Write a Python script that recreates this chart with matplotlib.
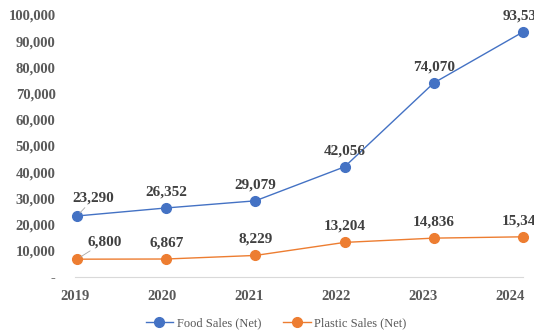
import matplotlib.pyplot as plt
from matplotlib.ticker import FuncFormatter

years = ['2019', '2020', '2021', '2022', '2023', '2024']
food = [23290, 26352, 29079, 42056, 74070, 93530]
plastic = [6800, 6867, 8229, 13204, 14836, 15340]

plt.rcParams['font.family'] = ['Liberation Serif', 'DejaVu Serif']

fig = plt.figure(figsize=(5.34, 3.35), dpi=100)
ax = fig.add_axes([75 / 534, 58 / 335, 448 / 534, 262 / 335])

x = list(range(len(years)))
blue = '#4472C4'
orange = '#ED7D31'
ax.plot(x, food, color=blue, lw=1.0, marker='o', ms=7, label='Food Sales (Net)', clip_on=False, zorder=3)
ax.plot(x, plastic, color=orange, lw=1.0, marker='o', ms=7, label='Plastic Sales (Net)', clip_on=False, zorder=3)

ax.set_xlim(0, len(years) - 1)
ax.set_ylim(0, 100000)
ax.set_yticks(range(0, 100001, 10000))
ax.yaxis.set_major_formatter(FuncFormatter(lambda v, p: '-' if v == 0 else f'{int(v):,}'))
# category labels sit slightly left of the points, as in the source chart
ax.set_xticks([(-2 + 87.4 * i) * 5 / 448 for i in x])
ax.set_xticklabels(years)
ax.tick_params(length=0, labelsize=10.5, colors='#595959')
ax.tick_params(axis='y', pad=14)
ax.tick_params(axis='x', pad=9)
for lbl in ax.get_xticklabels() + ax.get_yticklabels():
    lbl.set_fontweight('bold')
for s in ['top', 'right', 'left']:
    ax.spines[s].set_visible(False)
ax.spines['bottom'].set_color('#D9D9D9')

lab = dict(fontsize=11, fontweight='bold', color='#404040', ha='center', va='bottom',
           annotation_clip=False)
first_offsets = [(12, 8), (20, 8)]
for k, series in enumerate((food, plastic)):
    for i, v in enumerate(series):
        if i == 0:
            ax.annotate(f'{v:,}', (i, v), xytext=first_offsets[k], textcoords='offset points',
                        arrowprops=dict(arrowstyle='-', color='#A6A6A6', lw=0.6,
                                        shrinkA=0, shrinkB=3), **lab)
        else:
            ax.annotate(f'{v:,}', (i, v), xytext=(0, 7), textcoords='offset points', **lab)

fig.legend(loc='center', bbox_to_anchor=(276 / 534, 12 / 335), ncol=2, frameon=False,
           fontsize=9, labelcolor='#595959', handlelength=2.2, handletextpad=0.3,
           columnspacing=1.75)

fig.savefig('out.png', dpi=100)
